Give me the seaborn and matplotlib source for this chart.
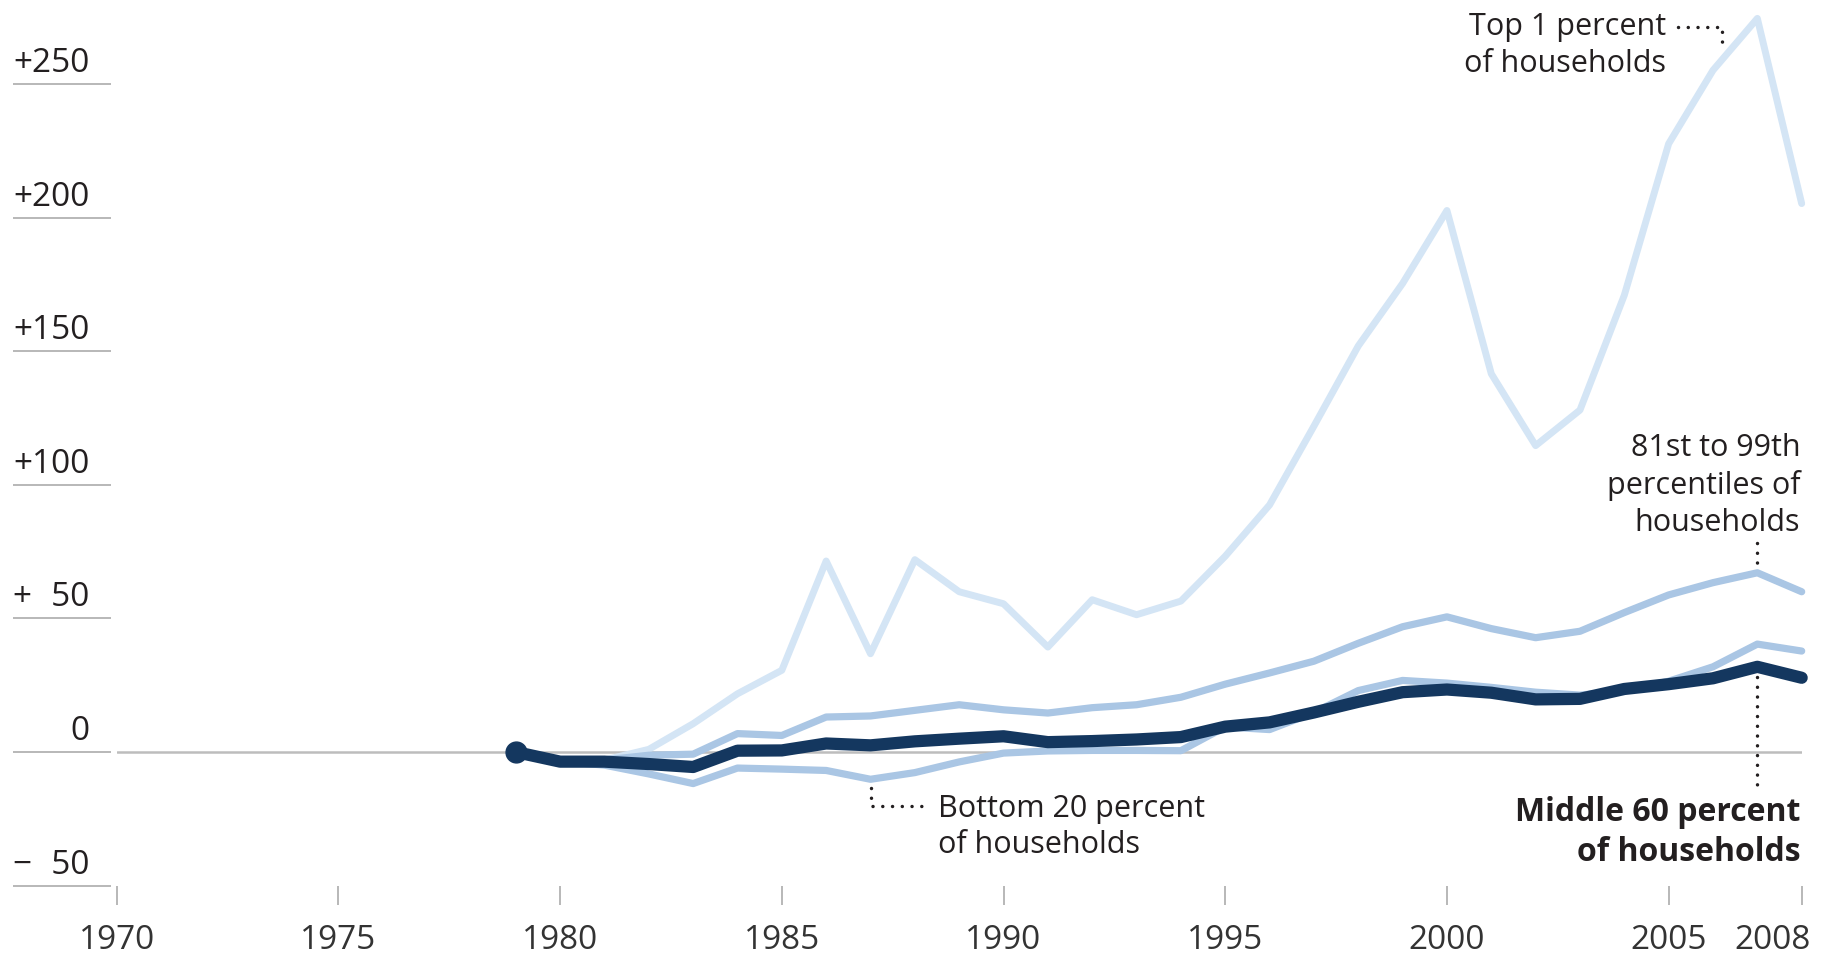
import matplotlib
matplotlib.use('Agg')
import matplotlib.pyplot as plt
import matplotlib.transforms as mtransforms
import seaborn as sns

# data (percent change since 1979)
years = list(range(1979, 2009))
top_1 = [0, -3, -3, 1, 10.6, 21.8, 30.6, 71.5, 36.8, 72, 60, 55.5, 39.3, 57,
         51.4, 56.5, 73.3, 92.5, 122, 152, 175.4, 202.7, 141.6, 114.7, 128,
         171, 227.7, 255.2, 274.6, 205.3]
pct_81_99 = [0, -3, -3, -1.2, -0.8, 6.9, 6.2, 13.1, 13.5, 15.6, 17.7, 15.8,
             14.6, 16.6, 17.7, 20.5, 25.4, 29.6, 34, 40.7, 46.9, 50.6, 46.2,
             42.8, 45.2, 52.2, 58.8, 63.4, 67.1, 60]
middle_60 = [0, -3.6, -3.6, -4.5, -5.6, 0.5, 0.6, 3.2, 2.5, 4, 5, 5.9, 3.7,
             4.1, 4.7, 5.6, 9.5, 11.1, 14.8, 18.8, 22.4, 23.4, 22.2, 19.7,
             19.9, 23.6, 25.4, 27.6, 31.9, 27.8]
bottom_20 = [0, -3.5, -4.9, -8.2, -11.8, -6, -6.4, -6.9, -10.2, -7.7, -3.7,
             -0.4, 0.4, 0.6, 0.6, 0.5, 9.4, 8.4, 14.8, 23, 26.8, 25.8, 24.2,
             22.4, 21.3, 23, 26.5, 31.9, 40.4, 37.8]

x_ticks = [1970, 1975, 1980, 1985, 1990, 1995, 2000, 2005, 2008]
y_ticks = [-50, 0, 50, 100, 150, 200, 250]
y_labels = ['\u2212\u200750', '0', '+\u200750', '+100', '+150', '+200', '+250']

navy = '#14375f'
mid_blue = '#aac6e4'
light_blue = '#d4e5f5'
ink = '#231f20'
grey = '#b8b8b8'

sns.set_theme(style='white')
plt.rcParams['font.family'] = ['Open Sans', 'DejaVu Sans']

fig = plt.figure(figsize=(18.28, 9.58), dpi=100)
ax = fig.add_axes([0.06384, 0.07557, 0.92176, 0.92443])

ax.axhline(0, color='#bdbdbd', lw=1.8, zorder=1)

series = [
    (top_1, light_blue, 5.0, 2),
    (bottom_20, mid_blue, 5.2, 3),
    (pct_81_99, mid_blue, 5.2, 3),
    (middle_60, navy, 8.8, 4),
]
for vals, col, lw, z in series:
    sns.lineplot(x=years, y=vals, color=col, linewidth=lw, ax=ax,
                 zorder=z, legend=False)
for line in ax.lines[1:]:
    line.set_solid_capstyle('round')
    line.set_solid_joinstyle('round')
    line.set_clip_on(False)

# start marker
ax.plot(years[0], middle_60[0], 'o', ms=15, color=navy, zorder=5, clip_on=False)

ax.set_xlim(1970, 2008)
ax.set_ylim(-50, 281.5)
ax.grid(False)
for s in ax.spines.values():
    s.set_visible(False)

# y "underlines" to the left of the plot
for t in y_ticks:
    ax.plot([-0.0617, -0.00338], [t, t], transform=ax.get_yaxis_transform(),
            color=grey, lw=1.4, clip_on=False, solid_capstyle='butt')

ax.set_xticks(x_ticks)
ax.set_xticklabels([str(t) for t in x_ticks])
ax.tick_params(axis='x', bottom=True, direction='out', length=14, width=1.4,
               color=grey, pad=14, labelsize=24, labelcolor='#333333')
ax.set_yticks(y_ticks, y_labels)
ax.tick_params(axis='y', left=False, length=0, pad=19.7, labelsize=24,
               labelcolor=ink)

# annotations (y = baseline of the last line)
txt = dict(color=ink, linespacing=1.28)
ax.text(2004.95, 254.6, 'Top 1 percent\nof households', ha='right',
        va='baseline', fontsize=22, **txt)
ax.text(2007.97, 82.9, '81st to 99th\npercentiles of\nhouseholds', ha='right',
        va='baseline', fontsize=22, **txt)
ax.text(2007.97, -40.9, 'Middle 60 percent\nof households', ha='right',
        va='baseline', fontsize=23, fontweight='bold', **txt)
ax.text(1988.53, -37.9, 'Bottom 20 percent\nof households', ha='left',
        va='baseline', fontsize=22, **txt)

dots = dict(color=ink, lw=2.5, linestyle=(0, (0.01, 2.8)),
            dash_capstyle='round', clip_on=False, zorder=6)
ax.plot([2005.2, 2006.2, 2006.2], [271.5, 271.5, 264], **dots)
ax.plot([2007, 2007], [78.2, 70.2], **dots)
ax.plot([2007, 2007], [28, -12.7], **dots)
ax.plot([1987, 1987, 1988.3], [-13.5, -20.2, -20.2], **dots)

# shift y labels up above their underline, and pull 2008 inside the figure
up = mtransforms.ScaledTranslation(0, 0.245, fig.dpi_scale_trans)
for lab in ax.get_yticklabels():
    lab.set_transform(lab.get_transform() + up)
last = ax.get_xticklabels()[-1]
last.set_transform(last.get_transform() +
                   mtransforms.ScaledTranslation(-0.29, 0, fig.dpi_scale_trans))

fig.savefig('out.png', dpi=100)
